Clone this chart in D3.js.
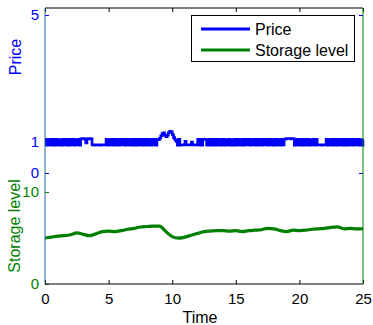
<!DOCTYPE html>
<html>
<head>
<meta charset="utf-8">
<script src="https://cdn.jsdelivr.net/npm/d3@7"></script>
<style>
  body { margin: 0; background: #fff; }
  svg text { font-family: "Liberation Sans", Arial, Helvetica, sans-serif; }
</style>
</head>
<body>
<div id="chart"></div>
<script>
// price sampled every 0.1 time unit, storage every 0.5
const PRICE_STEP = 0.1;
const STORAGE_STEP = 0.5;

const priceValues = [
  // 0 - 2.7 switching
  1.07,0.88,1.06,0.89,1.07,0.88,1.07,1.06,0.88,1.07,0.89,1.06,0.88,0.88,1.07,0.89,1.07,0.88,1.06,0.88,1.07,0.89,1.07,0.88,1.06,0.89,1.07,0.88,
  // 2.8 - 3.6 high
  1.08,1.09,1.09,1.08,0.95,1.08,1.09,1.09,1.08,
  // 3.7 - 4.7 low
  0.89,0.89,0.88,0.89,0.89,0.89,0.88,0.89,0.89,0.89,0.89,
  // 4.8 - 8.8 switching
  1.07,0.88,1.06,0.89,1.07,0.88,0.88,1.07,0.89,1.06,0.88,1.07,0.89,1.07,1.06,0.88,1.07,0.89,1.06,0.88,1.07,0.88,0.89,1.07,0.88,1.06,0.89,1.07,0.88,1.07,1.06,0.88,1.07,0.89,1.06,0.88,1.07,0.89,1.07,0.88,1.06,
  // 8.9 - 10.3 spike
  1.05,1.10,1.18,1.25,1.27,1.20,1.15,1.20,1.28,1.32,1.30,1.22,1.12,1.05,1.00,
  // 10.4 - 10.6
  0.88,1.07,0.88,
  // 10.7 - 11.9 mostly low
  0.89,0.89,0.89,1.00,0.89,0.89,0.89,0.89,0.98,0.89,0.89,0.89,0.89,
  // 12.0 - 13.3 blocks
  1.07,1.07,0.88,0.88,1.07,1.07,1.06,0.89,0.88,1.07,1.07,0.88,0.88,1.07,
  // 13.4 - 18.8 switching
  0.88,1.07,0.89,1.06,0.88,1.07,1.07,0.88,1.06,0.89,1.07,0.88,1.06,0.88,0.89,1.07,0.88,1.07,0.89,1.06,0.88,1.07,0.88,1.06,1.07,0.89,1.07,0.88,1.06,0.89,
  1.07,0.88,0.88,1.07,0.89,1.06,0.88,1.07,0.89,1.07,1.06,0.88,1.07,0.89,1.06,0.88,1.07,0.88,1.07,0.89,1.06,0.88,1.07,0.89,1.07,
  // 18.9 - 19.5 high
  1.08,1.09,1.09,1.09,1.08,1.09,1.08,
  // 19.6 - 21.3 switching
  0.88,1.07,0.89,1.06,0.88,1.07,1.06,0.88,1.07,0.89,1.07,0.88,0.88,1.06,0.89,1.07,0.88,1.07,
  // 21.4 - 22.0 low
  0.89,0.89,0.89,0.88,0.89,0.89,0.89,
  // 22.1 - 25.0 switching
  1.07,0.88,1.06,0.89,1.07,0.88,1.07,1.06,0.88,1.07,0.89,1.06,0.88,1.07,0.89,0.88,1.07,0.88,1.06,0.89,1.07,0.88,1.07,1.06,0.89,1.07,0.88,1.06,0.88,1.07
];

const storageValues = [
  5.00,5.10,5.20,5.25,5.35,5.55,5.40,5.25,5.45,5.70,
  5.75,5.70,5.80,5.95,6.05,6.20,6.25,6.30,6.30,5.70,
  5.15,4.98,5.10,5.30,5.50,5.70,5.75,5.80,5.80,5.75,
  5.80,5.70,5.80,5.85,5.90,6.05,6.00,5.80,5.70,5.85,
  5.80,5.85,5.95,6.00,6.05,6.15,6.20,6.00,6.05,6.00,
  6.00
];

const timeTicks = [0, 5, 10, 15, 20, 25];
const priceTicks = [0, 1, 5];
const storageTicks = [0, 10];
const seriesNames = ['Price', 'Storage level'];

const BLUE = '#0000ff';
const GREEN = '#008000';

const W = 373, H = 325;
const box = {l: 45, r: 363, t: 8, b: 284};

const svg = d3.select('#chart').append('svg')
  .attr('width', W)
  .attr('height', H);

const x = d3.scaleLinear().domain([0, 25]).range([box.l, box.r]);
const yPrice = d3.scaleLinear().domain([0, 5]).range([173, 15]);
const yStorage = d3.scaleLinear().domain([0, 10]).range([284, 192]);

const priceData = priceValues.map((v, i) => ({t: i * PRICE_STEP, v}));
const storageData = storageValues.map((v, i) => ({t: i * STORAGE_STEP, v}));

// series
svg.append('path')
  .datum(storageData)
  .attr('fill', 'none')
  .attr('stroke', GREEN)
  .attr('stroke-width', 3.2)
  .attr('stroke-linejoin', 'round')
  .attr('d', d3.line().x(d => x(d.t)).y(d => yStorage(d.v)).curve(d3.curveMonotoneX));

// step curve so the fast switching fills in as a solid band
svg.append('path')
  .datum(priceData)
  .attr('fill', 'none')
  .attr('stroke', BLUE)
  .attr('stroke-width', 2.6)
  .attr('d', d3.line().x(d => x(d.t)).y(d => yPrice(d.v)).curve(d3.curveStepAfter));

// axes
const styleAxis = (g, color) => {
  g.select('.domain').remove();
  g.selectAll('.tick line').attr('stroke', color);
  g.selectAll('.tick text').attr('fill', color).style('font-size', '15px');
};

svg.append('g')
  .attr('transform', `translate(0,${box.b})`)
  .call(d3.axisBottom(x).tickValues(timeTicks).tickSize(-4).tickPadding(9).tickFormat(d3.format('d')))
  .call(g => styleAxis(g, '#000'));

svg.append('g')
  .attr('transform', `translate(0,${box.t})`)
  .call(d3.axisTop(x).tickValues(timeTicks).tickSize(-4).tickFormat(''))
  .call(g => styleAxis(g, '#000'));

svg.append('g')
  .attr('transform', `translate(${box.l},0)`)
  .call(d3.axisLeft(yPrice).tickValues(priceTicks).tickSize(-4).tickPadding(6).tickFormat(d3.format('d')))
  .call(g => styleAxis(g, BLUE));

svg.append('g')
  .attr('transform', `translate(${box.l},0)`)
  .call(d3.axisLeft(yStorage).tickValues(storageTicks).tickSize(-4).tickPadding(6).tickFormat(d3.format('d')))
  .call(g => styleAxis(g, GREEN));

svg.append('g')
  .attr('transform', `translate(${box.r},0)`)
  .call(d3.axisRight(yPrice).tickValues(priceTicks).tickSize(-4).tickFormat(''))
  .call(g => styleAxis(g, BLUE));

// frame lines
svg.append('line')
  .attr('x1', box.l).attr('x2', box.r).attr('y1', box.t).attr('y2', box.t)
  .attr('stroke', '#000');
svg.append('line')
  .attr('x1', box.l).attr('x2', box.r).attr('y1', box.b).attr('y2', box.b)
  .attr('stroke', '#000');
svg.append('line')
  .attr('x1', box.r).attr('x2', box.r).attr('y1', box.t).attr('y2', box.b)
  .attr('stroke', GREEN);
svg.append('line')
  .attr('x1', box.l).attr('x2', box.l).attr('y1', box.t).attr('y2', box.b)
  .attr('stroke', '#2a6490');

// axis labels
svg.append('text')
  .attr('transform', 'translate(21,57) rotate(-90)')
  .attr('text-anchor', 'middle')
  .attr('fill', BLUE)
  .style('font-size', '16px')
  .text('Price');

svg.append('text')
  .attr('transform', 'translate(20,226) rotate(-90)')
  .attr('text-anchor', 'middle')
  .attr('fill', GREEN)
  .style('font-size', '16px')
  .text('Storage level');

svg.append('text')
  .attr('x', 200).attr('y', 323)
  .attr('text-anchor', 'middle')
  .attr('fill', '#000')
  .style('font-size', '16px')
  .text('Time');

// legend
const legend = svg.append('g');
legend.append('rect')
  .attr('x', 191.5).attr('y', 15.5)
  .attr('width', 163).attr('height', 46)
  .attr('fill', '#fff')
  .attr('stroke', '#000');

const legendItems = legend.selectAll('.item')
  .data(seriesNames)
  .join('g')
  .attr('class', 'item')
  .attr('transform', (d, i) => `translate(0,${29 + i * 21})`);

legendItems.append('line')
  .attr('x1', 201).attr('x2', 250)
  .attr('stroke', (d, i) => i === 0 ? BLUE : GREEN)
  .attr('stroke-width', 3);

legendItems.append('text')
  .attr('x', 255).attr('y', 5.5)
  .style('font-size', '16px')
  .attr('fill', '#000')
  .text(d => d);
</script>
</body>
</html>
